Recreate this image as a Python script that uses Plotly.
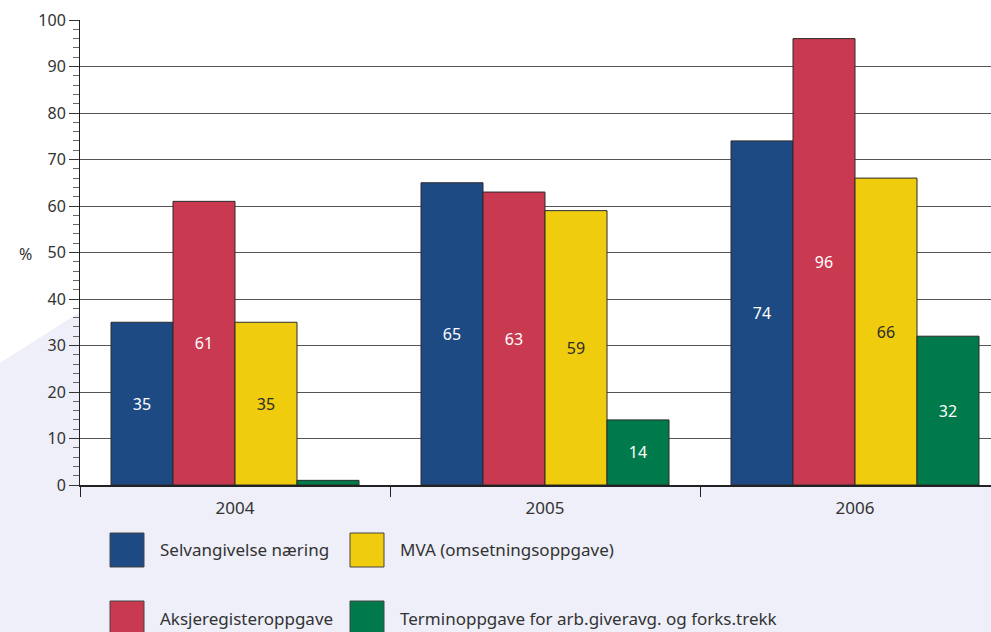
import plotly.graph_objects as go

years = ["2004", "2005", "2006"]
series_names = [
    "Selvangivelse næring",
    "Aksjeregisteroppgave",
    "MVA (omsetningsoppgave)",
    "Terminoppgave for arb.giveravg. og forks.trekk",
]
selvangivelse = [35, 65, 74]
aksjeregister = [61, 63, 96]
mva = [35, 59, 66]
terminoppgave = [1, 14, 32]
y_ticks = [0, 10, 20, 30, 40, 50, 60, 70, 80, 90, 100]

colors = ["#1e4a84", "#c93a50", "#f0cc0e", "#007a4a"]
text_colors = ["white", "white", "#2a2a2a", "white"]
values = [selvangivelse, aksjeregister, mva, terminoppgave]

W, H = 991, 632
L, R, T, B = 80, 0, 20, 147
PW, PH = W - L - R, H - T - B
FONT = "Noto Sans"


def px(x):
    return (x - L) / PW


def py(y):
    return (H - B - y) / PH


fig = go.Figure()
for name, vals, col, tcol in zip(series_names, values, colors, text_colors):
    fig.add_trace(go.Bar(
        x=years, y=vals, name=name,
        marker=dict(color=col, line=dict(color="#2b2b2b", width=1)),
        text=[str(v) if v >= 5 else "" for v in vals],
        textposition="inside", insidetextanchor="middle", textangle=0,
        textfont=dict(color=tcol, size=16, family=FONT),
        showlegend=False, hoverinfo="skip",
    ))

shapes = []
# lavender background outside plot area
path = (f"M {px(0)},{py(363)} L {px(80)},{py(312)} L {px(80)},{py(485)} "
        f"L {px(991)},{py(485)} L {px(991)},{py(632)} L {px(0)},{py(632)} Z")
shapes.append(dict(type="path", xref="paper", yref="paper", path=path,
                   fillcolor="#eeeff8", line=dict(width=0), layer="below"))

annotations = []
# custom legend (2 x 2)
legend_pos = [(110, 533), (110, 601), (350, 533), (350, 601)]
for (lx, ly), name, col in zip(legend_pos, series_names, colors):
    shapes.append(dict(type="rect", xref="paper", yref="paper",
                       x0=px(lx), x1=px(lx + 34), y0=py(ly), y1=py(ly + 34),
                       fillcolor=col, line=dict(color="#444", width=1)))
    annotations.append(dict(xref="paper", yref="paper", x=px(lx + 48), y=py(ly + 17),
                            text=name, showarrow=False, xanchor="left", yanchor="middle",
                            font=dict(size=17, color="#333", family=FONT)))

annotations.append(dict(xref="paper", yref="paper", x=px(25), y=py(254), text="%",
                        showarrow=False, xanchor="center", yanchor="middle",
                        font=dict(size=16, color="#333", family=FONT)))

fig.update_layout(
    width=W, height=H,
    margin=dict(l=L, r=R, t=T, b=B, pad=0),
    paper_bgcolor="white", plot_bgcolor="white",
    barmode="group", bargap=0.2, bargroupgap=0,
    font=dict(family=FONT, size=16, color="#333"),
    shapes=shapes, annotations=annotations,
    xaxis=dict(
        type="category", range=[-0.5, -0.5 + PW / 310.0],
        tickson="boundaries", ticks="outside", ticklen=10, tickcolor="#222", tickwidth=1,
        showline=True, linecolor="#222", linewidth=2, showgrid=False,
        ticklabelstandoff=7,
        tickfont=dict(size=17, color="#333", family=FONT),
    ),
    yaxis=dict(
        range=[0, 100], tickvals=y_ticks, ticks="outside", ticklen=10,
        tickcolor="#333", tickwidth=1,
        showline=True, linecolor="#222", linewidth=1,
        showgrid=True, gridcolor="#555", gridwidth=1, zeroline=False,
        tickfont=dict(size=16, color="#333", family=FONT),
        minor=dict(dtick=2, ticks="outside", ticklen=6, tickcolor="#666", showgrid=False),
    ),
)

fig.write_html("out.html", config={"displayModeBar": False},
               post_script="document.body.style.margin='0';")
